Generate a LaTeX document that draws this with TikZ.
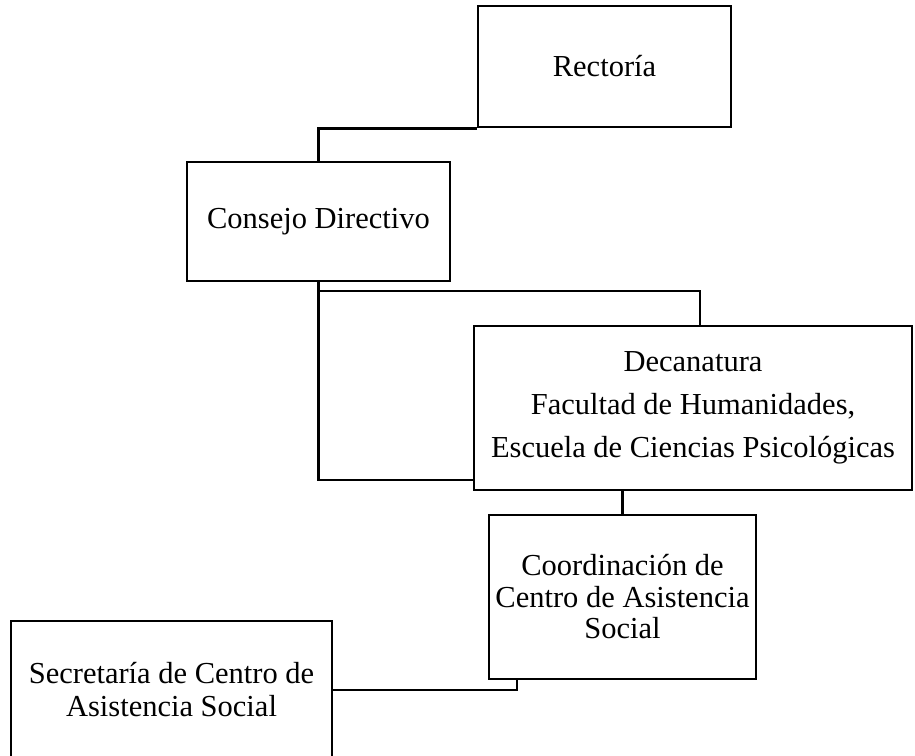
\documentclass[tikz,border=0pt]{standalone}
\usepackage{fontspec}
\setmainfont{Liberation Serif}
\begin{document}
\begin{tikzpicture}[x=1pt,y=-1pt,
  unit/.style={draw=black, line width=2.8pt, rectangle, inner sep=0pt, align=center, fill=white},
  link/.style={draw=black, line width=2.8pt}]
\clip (0,0) rectangle (915,755);
\fill[white] (0,0) rectangle (915,755);
% boxes
\node[unit, minimum width=253pt, minimum height=121pt, font=\fontsize{30.5}{36}\selectfont] (rect) at (604.5,66.5) {Rectoría};
\node[unit, minimum width=263pt, minimum height=119pt, font=\fontsize{30.5}{36}\selectfont] (cons) at (318.5,221.5) {Consejo Directivo};
\node[unit, minimum width=438pt, minimum height=164pt, font=\fontsize{30.5}{43}\selectfont] (dec) at (693,408) {Decanatura\\Facultad de Humanidades,\\Escuela de Ciencias Psicológicas};
\node[unit, minimum width=267pt, minimum height=164pt, font=\fontsize{30.5}{31.5}\selectfont] (coord) at (622.5,597) {Coordinación de\\Centro de Asistencia\\Social};
\node[unit, minimum width=321pt, minimum height=138pt, font=\fontsize{30.5}{33}\selectfont] (sec) at (171.5,690) {Secretaría de Centro de\\Asistencia Social};
% junction coordinates
\coordinate (j1) at (474,480);
\coordinate (j2) at (700,291);
\coordinate (j3) at (517,690);
% connectors
\draw[link] (rect.south west) -| (cons.north);
\draw[link] (cons.south) |- (j1);
\draw[link] (cons.south |- j2) -| (dec.north -| j2);
\draw[link] (dec.south -| coord.north) -- (coord.north);
\draw[link] (coord.south -| j3) |- (sec.east);
\end{tikzpicture}
\end{document}
